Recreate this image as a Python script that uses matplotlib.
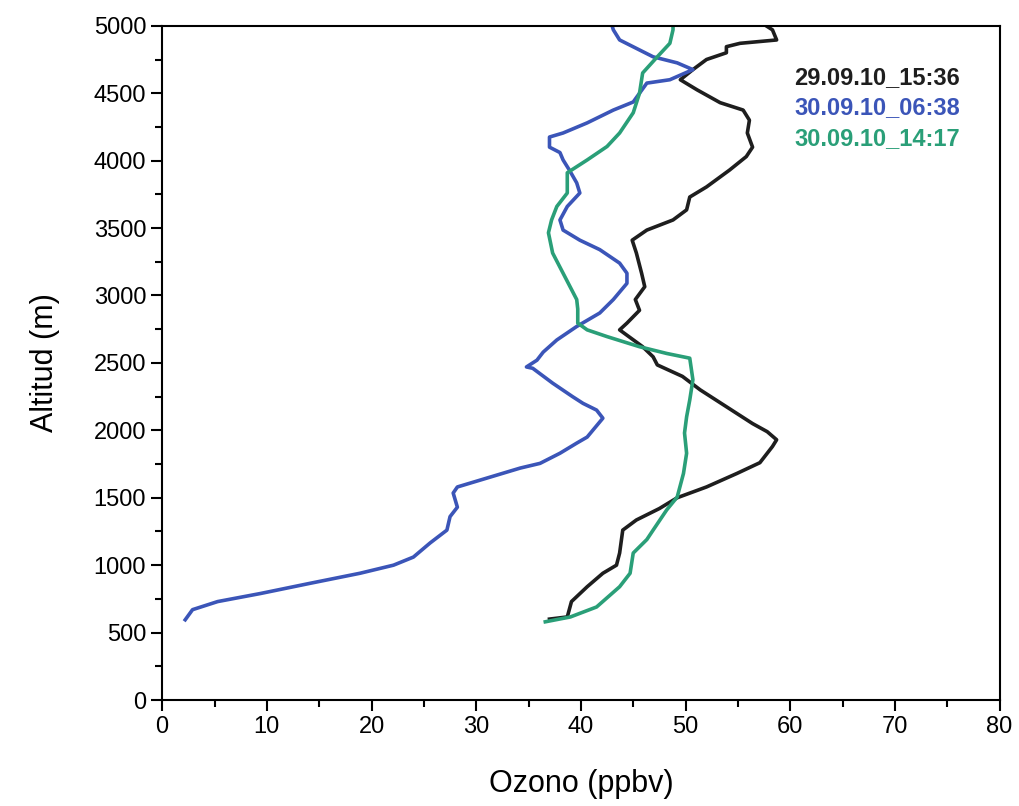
import matplotlib.pyplot as plt
from matplotlib.ticker import MultipleLocator

plt.rcParams['font.family'] = ['Liberation Sans', 'DejaVu Sans']

# 29.09.10_15:36
black_o3 = [37.0, 38.7, 39.1, 40.6, 42.1, 43.4, 43.7, 44.0, 45.3, 47.5, 49.2, 52.0, 54.9, 57.1,
            58.3, 58.7, 57.8, 56.4, 53.9, 51.4, 49.7, 47.3, 46.9, 45.9, 43.7, 44.4, 45.6, 45.2,
            46.1, 45.8, 45.3, 44.9, 46.3, 48.8, 50.1, 50.4, 52.0, 54.2, 55.8, 56.4, 55.9, 56.1,
            55.5, 53.3, 51.1, 49.5, 50.7, 52.0, 53.9, 53.9, 55.2, 58.7, 58.3, 57.8]
black_alt = [600, 616, 730, 840, 940, 1000, 1090, 1260, 1335, 1420, 1500, 1580, 1680, 1760,
             1880, 1930, 1990, 2050, 2175, 2300, 2400, 2485, 2545, 2620, 2745, 2795, 2890, 2970,
             3065, 3165, 3315, 3410, 3485, 3560, 3635, 3730, 3805, 3930, 4030, 4100, 4205, 4300,
             4375, 4430, 4525, 4600, 4675, 4750, 4800, 4845, 4870, 4895, 4970, 4995]

# 30.09.10_06:38
blue_o3 = [2.2, 2.9, 5.3, 9.4, 14.1, 18.9, 22.1, 24.0, 25.6, 27.2, 27.5, 28.2, 27.8, 28.2,
           34.2, 36.1, 38.0, 39.6, 40.6, 42.1, 41.5, 40.2, 39.2, 37.3, 35.4, 34.8, 35.8, 36.4,
           37.7, 39.6, 41.8, 43.1, 44.4, 44.4, 43.7, 41.8, 39.9, 38.3, 38.0, 38.7, 39.9, 39.6,
           38.9, 38.3, 38.0, 37.0, 37.0, 38.3, 40.6, 43.1, 45.0, 45.6, 46.3, 48.5, 50.7, 49.2,
           46.9, 43.7, 43.1, 43.0]
blue_alt = [595, 670, 730, 790, 865, 940, 1000, 1060, 1165, 1260, 1360, 1430, 1535, 1580,
            1720, 1755, 1830, 1905, 1950, 2090, 2150, 2200, 2250, 2350, 2460, 2470, 2520, 2580,
            2670, 2770, 2870, 2970, 3090, 3165, 3240, 3340, 3410, 3485, 3560, 3660, 3760, 3835,
            3930, 4005, 4060, 4100, 4175, 4205, 4280, 4375, 4435, 4500, 4575, 4600, 4675, 4725,
            4770, 4895, 4970, 4995]

# 30.09.10_14:17
green_o3 = [36.6, 39.0, 41.5, 43.7, 44.7, 45.0, 46.3, 46.9, 48.2, 49.2, 49.8, 50.1, 49.9, 50.1,
            50.4, 50.7, 50.4, 48.2, 45.6, 42.5, 40.6, 39.7, 39.7, 39.6, 38.3, 37.3, 36.9, 37.2,
            37.7, 38.7, 38.7, 40.6, 42.5, 43.7, 45.0, 45.6, 45.9, 47.3, 48.5, 48.8, 48.8]
green_alt = [580, 616, 690, 840, 940, 1090, 1190, 1260, 1410, 1505, 1680, 1830, 1980, 2100,
             2225, 2375, 2535, 2570, 2620, 2695, 2745, 2795, 2900, 2970, 3165, 3315, 3465, 3560,
             3660, 3760, 3910, 4005, 4105, 4205, 4355, 4500, 4650, 4770, 4870, 4970, 5000]

labels = ['29.09.10_15:36', '30.09.10_06:38', '30.09.10_14:17']
colors = ['#1e1e1e', '#3b55b8', '#2a9f78']

fig = plt.figure(figsize=(10.2, 8.06), dpi=100)
ax = fig.add_axes([0.159, 0.1315, 0.821, 0.8365])

ax.plot(black_o3, black_alt, color=colors[0], lw=2.6)
ax.plot(blue_o3, blue_alt, color=colors[1], lw=2.6)
ax.plot(green_o3, green_alt, color=colors[2], lw=2.6)

ax.set_xlim(0, 80)
ax.set_ylim(0, 5000)
ax.xaxis.set_major_locator(MultipleLocator(10))
ax.xaxis.set_minor_locator(MultipleLocator(5))
ax.yaxis.set_major_locator(MultipleLocator(500))
ax.yaxis.set_minor_locator(MultipleLocator(250))
ax.tick_params(which='major', length=8, width=1.5, labelsize=17, direction='out')
ax.tick_params(which='minor', length=5, width=1.5, direction='out')
ax.tick_params(top=False, right=False)
for s in ax.spines.values():
    s.set_linewidth(1.5)

ax.set_xlabel('Ozono (ppbv)', fontsize=22, labelpad=22)
ax.set_ylabel('Altitud (m)', fontsize=22, labelpad=24)

for i, (lab, c) in enumerate(zip(labels, colors)):
    ax.text(0.755, 0.923 - i * 0.045, lab, color=c, fontsize=17, fontweight='bold',
            transform=ax.transAxes, va='center')

fig.savefig('out.png', dpi=100)
